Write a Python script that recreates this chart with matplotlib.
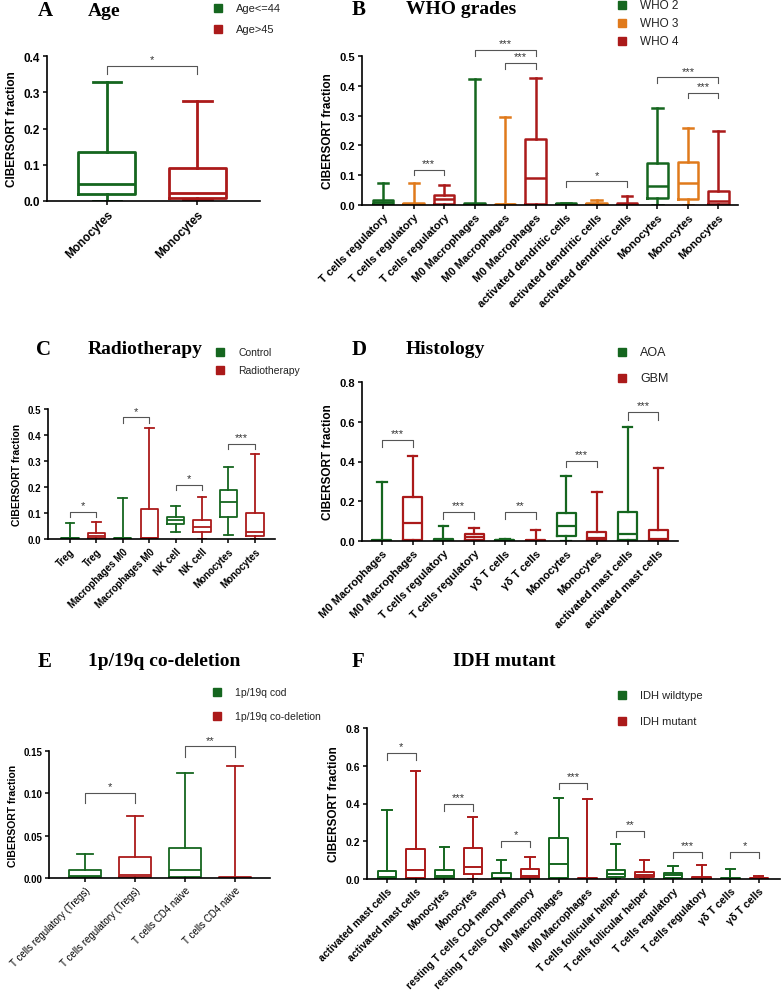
import matplotlib
matplotlib.use("Agg")
import matplotlib.pyplot as plt
from matplotlib.patches import Rectangle

plt.rcParams['font.family'] = ['Liberation Sans', 'DejaVu Sans']

W, H = 782, 1004
GREEN = '#15661f'
ORANGE = '#e07a1c'
RED = '#ab1a1a'

# ---------------- data ----------------
# Panel A
a_labels = ["Monocytes", "Monocytes"]
a_groups = [0, 1]
a_min = [0.0, 0.005]
a_q1 = [0.018, 0.007]
a_med = [0.048, 0.023]
a_q3 = [0.135, 0.090]
a_max = [0.327, 0.276]
a_legend = ["Age<=44", "Age>45"]

# Panel B
b_labels = ["T cells regulatory"] * 3 + ["M0 Macrophages"] * 3 + ["activated dendritic cells"] * 3 + ["Monocytes"] * 3
b_groups = [0, 1, 2] * 4
b_min = [0, 0, 0, 0, 0, 0, 0, 0, 0, 0, 0, 0]
b_q1 = [0.003, 0.002, 0.005, 0.001, 0.001, 0.003, 0.002, 0.002, 0.001, 0.025, 0.020, 0.005]
b_med = [0.010, 0.005, 0.020, 0.003, 0.002, 0.090, 0.004, 0.004, 0.003, 0.063, 0.075, 0.015]
b_q3 = [0.018, 0.008, 0.035, 0.006, 0.004, 0.220, 0.006, 0.006, 0.006, 0.140, 0.145, 0.048]
b_max = [0.073, 0.073, 0.067, 0.423, 0.295, 0.427, 0.008, 0.016, 0.030, 0.327, 0.257, 0.250]
b_legend = ["WHO 2", "WHO 3", "WHO 4"]

# Panel C
c_labels = ["Treg", "Treg", "Macrophages M0", "Macrophages M0", "NK cell", "NK cell", "Monocytes", "Monocytes"]
c_groups = [0, 1] * 4
c_min = [0, 0, 0, 0, 0.028, 0.0, 0.015, 0.0]
c_q1 = [0.001, 0.003, 0.001, 0.002, 0.058, 0.028, 0.085, 0.010]
c_med = [0.003, 0.010, 0.002, 0.004, 0.074, 0.048, 0.142, 0.027]
c_q3 = [0.005, 0.024, 0.004, 0.117, 0.083, 0.073, 0.188, 0.100]
c_max = [0.060, 0.067, 0.158, 0.427, 0.127, 0.162, 0.277, 0.327]
c_legend = ["Control", "Radiotherapy"]

# Panel D
d_labels = ["M0 Macrophages"] * 2 + ["T cells regulatory"] * 2 + ["γδ T cells"] * 2 + ["Monocytes"] * 2 + ["activated mast cells"] * 2
d_groups = [0, 1] * 5
d_min = [0] * 10
d_q1 = [0.001, 0.003, 0.002, 0.005, 0.001, 0.001, 0.025, 0.005, 0.003, 0.002]
d_med = [0.002, 0.090, 0.004, 0.020, 0.003, 0.002, 0.073, 0.016, 0.035, 0.010]
d_q3 = [0.004, 0.220, 0.010, 0.035, 0.006, 0.004, 0.143, 0.046, 0.145, 0.057]
d_max = [0.295, 0.427, 0.073, 0.067, 0.008, 0.055, 0.327, 0.248, 0.572, 0.367]
d_legend = ["AOA", "GBM"]

# Panel E
e_labels = ["T cells regulatory (Tregs)"] * 2 + ["T cells CD4 naive"] * 2
e_groups = [0, 1] * 2
e_min = [0, 0, 0, 0]
e_q1 = [0.001, 0.001, 0.001, 0.0]
e_med = [0.002, 0.004, 0.009, 0.0005]
e_q3 = [0.009, 0.025, 0.035, 0.001]
e_max = [0.028, 0.073, 0.124, 0.132]
e_legend = ["1p/19q cod", "1p/19q co-deletion"]

# Panel F
f_labels = ["activated mast cells"] * 2 + ["Monocytes"] * 2 + ["resting T cells CD4 memory"] * 2 + \
           ["M0 Macrophages"] * 2 + ["T cells follicular helper"] * 2 + ["T cells regulatory"] * 2 + ["γδ T cells"] * 2
f_groups = [0, 1] * 7
f_min = [0] * 14
f_q1 = [0.003, 0.003, 0.005, 0.025, 0.001, 0.003, 0.003, 0.001, 0.013, 0.008, 0.005, 0.002, 0.001, 0.001]
f_med = [0.012, 0.048, 0.018, 0.062, 0.005, 0.018, 0.077, 0.002, 0.028, 0.022, 0.020, 0.005, 0.002, 0.003]
f_q3 = [0.045, 0.160, 0.046, 0.165, 0.033, 0.052, 0.218, 0.004, 0.050, 0.038, 0.033, 0.010, 0.004, 0.006]
f_max = [0.367, 0.572, 0.170, 0.327, 0.100, 0.115, 0.427, 0.423, 0.185, 0.100, 0.067, 0.072, 0.055, 0.016]
f_legend = ["IDH wildtype", "IDH mutant"]

# significance brackets: (i, j, top, tip, text)
a_sig = [(0, 1, 0.372, 0.350, "*")]
b_sig = [(1, 2, 0.118, 0.100, "***"), (3, 5, 0.521, 0.500, "***"), (4, 5, 0.476, 0.458, "***"),
         (6, 8, 0.079, 0.060, "*"), (9, 11, 0.428, 0.408, "***"), (10, 11, 0.376, 0.360, "***")]
c_sig = [(0, 1, 0.105, 0.085, "*"), (2, 3, 0.468, 0.448, "*"), (4, 5, 0.208, 0.188, "*"), (6, 7, 0.365, 0.345, "***")]
d_sig = [(0, 1, 0.51, 0.475, "***"), (2, 3, 0.147, 0.11, "***"), (4, 5, 0.147, 0.11, "**"),
         (6, 7, 0.404, 0.37, "***"), (8, 9, 0.647, 0.61, "***")]
e_sig = [(0, 1, 0.1007, 0.089, "*"), (2, 3, 0.1555, 0.143, "**")]
f_sig = [(0, 1, 0.666, 0.63, "*"), (2, 3, 0.397, 0.36, "***"), (4, 5, 0.203, 0.17, "*"),
         (6, 7, 0.507, 0.475, "***"), (8, 9, 0.256, 0.22, "**"), (10, 11, 0.145, 0.11, "***"),
         (12, 13, 0.145, 0.11, "*")]

fig = plt.figure(figsize=(W / 100, H / 100), dpi=100)


def add_ax(x0, x1, ytop, ybot):
    return fig.add_axes([x0 / W, 1 - ybot / H, (x1 - x0) / W, (ybot - ytop) / H])


def panel(ax, labels, groups, mins, q1, med, q3, maxs, colors, xlim, ylim, yticks, yfmt,
          sig, lw=1.6, width=0.65, fs=8, ylab_fs=8.5, xweight='bold'):
    stats = []
    for i in range(len(labels)):
        stats.append(dict(whislo=mins[i], q1=q1[i], med=med[i], q3=q3[i], whishi=maxs[i], fliers=[]))
    pos = list(range(len(labels)))
    res = ax.bxp(stats, positions=pos, widths=width, capwidths=width * 0.5, showfliers=False,
                 patch_artist=False, manage_ticks=False)
    for i, g in enumerate(groups):
        c = colors[g]
        res['boxes'][i].set(color=c, lw=lw)
        res['medians'][i].set(color=c, lw=lw)
        for k in (2 * i, 2 * i + 1):
            res['whiskers'][k].set(color=c, lw=lw)
            res['caps'][k].set(color=c, lw=lw)
    ax.set_xlim(*xlim)
    ax.set_ylim(*ylim)
    ax.set_yticks(yticks)
    ax.set_yticklabels([yfmt.format(v) for v in yticks], fontsize=fs, fontweight='bold')
    ax.set_xticks(pos)
    ax.set_xticklabels(labels, rotation=45, ha='right', rotation_mode='anchor',
                       fontsize=fs, fontweight=xweight)
    for s in ('top', 'right'):
        ax.spines[s].set_visible(False)
    for s in ('left', 'bottom'):
        ax.spines[s].set_linewidth(1.2)
    ax.spines['left'].set_bounds(ylim[0], yticks[-1])
    ax.tick_params(axis='both', direction='out', width=1.1, length=3, pad=2)
    ax.set_ylabel("CIBERSORT fraction", fontsize=ylab_fs, fontweight='bold')
    for (i, j, top, tip, txt) in sig:
        ax.plot([i, i, j, j], [tip, top, top, tip], color='#555555', lw=0.8, clip_on=False)
        ax.text((i + j) / 2, top + (ylim[1] - ylim[0]) * 0.012, txt, ha='center', va='bottom',
                fontsize=8, color='#333333', clip_on=False)


def title(xl, xt, y, letter, text, fs=14):
    fig.text(xl / W, 1 - y / H, letter, fontsize=fs + 1, fontweight='bold', family='Liberation Serif',
             va='center', ha='left')
    fig.text(xt / W, 1 - y / H, text, fontsize=fs, fontweight='bold', family='Liberation Serif',
             va='center', ha='left')


def legend(x, ys, names, colors, fs=8):
    s = 8
    for y, n, c in zip(ys, names, colors):
        fig.patches.append(Rectangle(((x - s / 2) / W, 1 - (y + s / 2) / H), s / W, s / H,
                                     transform=fig.transFigure, color=c, figure=fig))
        fig.text((x + 18) / W, 1 - y / H, n, fontsize=fs, va='center', ha='left', color='#222222')


# Panel A
axA = add_ax(47, 260, 57, 202)
panel(axA, a_labels, a_groups, a_min, a_q1, a_med, a_q3, a_max, [GREEN, RED],
      (-0.66, 1.69), (0, 0.4), [0.0, 0.1, 0.2, 0.3, 0.4], "{:.1f}", a_sig, lw=2.0, width=0.63, fs=8.5)
title(38, 88, 11, "A", "Age")
legend(218, [9, 30], a_legend, [GREEN, RED], fs=8)

# Panel B
axB = add_ax(362, 738, 57, 206)
panel(axB, b_labels, b_groups, b_min, b_q1, b_med, b_q3, b_max, [GREEN, ORANGE, RED],
      (-0.69, 11.64), (0, 0.5), [0.0, 0.1, 0.2, 0.3, 0.4, 0.5], "{:.1f}", b_sig, lw=1.8, width=0.66, fs=8)
title(352, 406, 10, "B", "WHO grades")
legend(622, [6, 24, 42], b_legend, [GREEN, ORANGE, RED], fs=8.5)

# Panel C
axC = add_ax(48, 275, 410, 540)
panel(axC, c_labels, c_groups, c_min, c_q1, c_med, c_q3, c_max, [GREEN, RED],
      (-0.83, 7.76), (0, 0.5), [0.0, 0.1, 0.2, 0.3, 0.4, 0.5], "{:.1f}", c_sig, lw=1.3, width=0.65,
      fs=7, ylab_fs=7.5)
title(36, 88, 350, "C", "Radiotherapy")
legend(220, [353, 371], c_legend, [GREEN, RED], fs=7.5)

# Panel D
axD = add_ax(362, 678, 383, 542)
panel(axD, d_labels, d_groups, d_min, d_q1, d_med, d_q3, d_max, [GREEN, RED],
      (-0.65, 9.64), (0, 0.8), [0.0, 0.2, 0.4, 0.6, 0.8], "{:.1f}", d_sig, lw=1.6, width=0.62, fs=8)
title(352, 406, 350, "D", "Histology")
legend(622, [353, 379], d_legend, [GREEN, RED], fs=9)

# Panel E
axE = add_ax(49, 270, 752, 879)
panel(axE, e_labels, e_groups, e_min, e_q1, e_med, e_q3, e_max, [GREEN, RED],
      (-0.72, 3.7), (0, 0.15), [0.0, 0.05, 0.10, 0.15], "{:.2f}", e_sig, lw=1.3, width=0.65,
      fs=7, ylab_fs=7.5, xweight='normal')
title(38, 88, 662, "E", "1p/19q co-deletion")
legend(217, [693, 717], e_legend, [GREEN, RED], fs=7.5)

# Panel F
axF = add_ax(367, 780, 729, 880)
panel(axF, f_labels, f_groups, f_min, f_q1, f_med, f_q3, f_max, [GREEN, RED],
      (-0.7, 13.74), (0, 0.8), [0.0, 0.2, 0.4, 0.6, 0.8], "{:.1f}", f_sig, lw=1.4, width=0.65, fs=7.5)
title(352, 453, 662, "F", "IDH mutant")
legend(622, [696, 722], f_legend, [GREEN, RED], fs=8)

fig.savefig("out.png", dpi=100, facecolor='white')
